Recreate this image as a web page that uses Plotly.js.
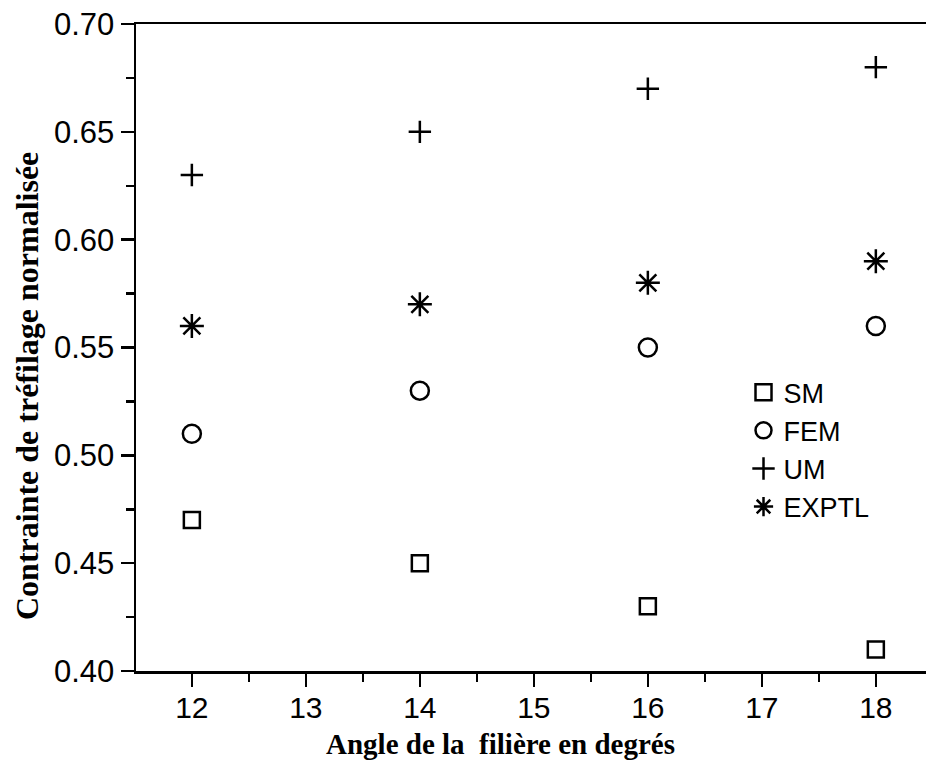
<!DOCTYPE html>
<html>
<head>
<meta charset="utf-8">
<script src="https://cdn.plot.ly/plotly-3.0.1.min.js"></script>
<style>html,body{margin:0;padding:0;background:#fff;}#chart{width:926px;height:764px;}</style>
</head>
<body>
<div id="chart"></div>
<script>
const angles = [12, 14, 16, 18];
const sm = [0.47, 0.45, 0.43, 0.41];
const fem = [0.51, 0.53, 0.55, 0.56];
const um = [0.63, 0.65, 0.67, 0.68];
const exptl = [0.56, 0.57, 0.58, 0.59];
const xTickVals = [12, 13, 14, 15, 16, 17, 18];
const yTickVals = [0.40, 0.45, 0.50, 0.55, 0.60, 0.65, 0.70];
const xTitle = 'Angle de la&nbsp; filière en degrés';
const yTitle = 'Contrainte de tréfilage normalisée';

function mk(name, y, symbol, size) {
  return {
    x: angles, y: y, name: name, type: 'scatter', mode: 'markers',
    marker: {symbol: symbol, size: size, color: '#000', line: {color: '#000', width: 2.5}}
  };
}
const traces = [
  mk('SM', sm, 'square-open', 16),
  mk('FEM', fem, 'circle-open', 18),
  mk('UM', um, 'cross-thin-open', 16),
  mk('EXPTL', exptl, 'asterisk-open', 20)
];

const titleFont = {family: 'Liberation Serif, Times New Roman, serif', color: '#000', weight: 'bold'};
const layout = {
  width: 926, height: 764,
  margin: {l: 136, r: 0, t: 24, b: 93},
  paper_bgcolor: '#fff', plot_bgcolor: '#fff',
  showlegend: true,
  legend: {x: 0.769, xanchor: 'left', y: 0.468, yanchor: 'top',
    font: {family: 'Liberation Sans, Arial, sans-serif', size: 27, color: '#000'},
    bgcolor: 'rgba(0,0,0,0)'},
  xaxis: {
    range: [11.51, 18.44], tickvals: xTickVals, ticktext: xTickVals.map(String),
    showgrid: false, zeroline: false, showline: true, linecolor: '#000', linewidth: 2.5,
    mirror: true, ticks: 'outside', ticklen: 13, tickwidth: 2.5, tickcolor: '#000',
    ticklabelstandoff: -5,
    minor: {dtick: 0.5, tick0: 0, ticks: 'outside', ticklen: 8, tickwidth: 2.5, tickcolor: '#000'},
    tickfont: {family: 'Liberation Sans, Arial, sans-serif', size: 30, color: '#000'}
  },
  yaxis: {
    range: [0.40, 0.70], tickvals: yTickVals, ticktext: yTickVals.map(v => v.toFixed(2)),
    showgrid: false, zeroline: false, showline: true, linecolor: '#000', linewidth: 2.5,
    mirror: false, ticks: 'outside', ticklen: 13, tickwidth: 2.5, tickcolor: '#000',
    minor: {dtick: 0.025, tick0: 0, ticks: 'outside', ticklen: 8, tickwidth: 2.5, tickcolor: '#000'},
    tickfont: {family: 'Liberation Sans, Arial, sans-serif', size: 31, color: '#000'}
  },
  annotations: [
    {text: xTitle, xref: 'paper', yref: 'paper', x: (500 - 136) / 790, y: -(744 - 671) / 647,
     xanchor: 'center', yanchor: 'middle', showarrow: false, font: Object.assign({size: 29}, titleFont)},
    {text: yTitle, xref: 'paper', yref: 'paper', x: -(136 - 27) / 790, y: (671 - 386) / 647,
     xanchor: 'center', yanchor: 'middle', textangle: -90, showarrow: false, font: Object.assign({size: 32}, titleFont)}
  ]
};
Plotly.newPlot('chart', traces, layout, {displayModeBar: false, staticPlot: true});
</script>
</body>
</html>
